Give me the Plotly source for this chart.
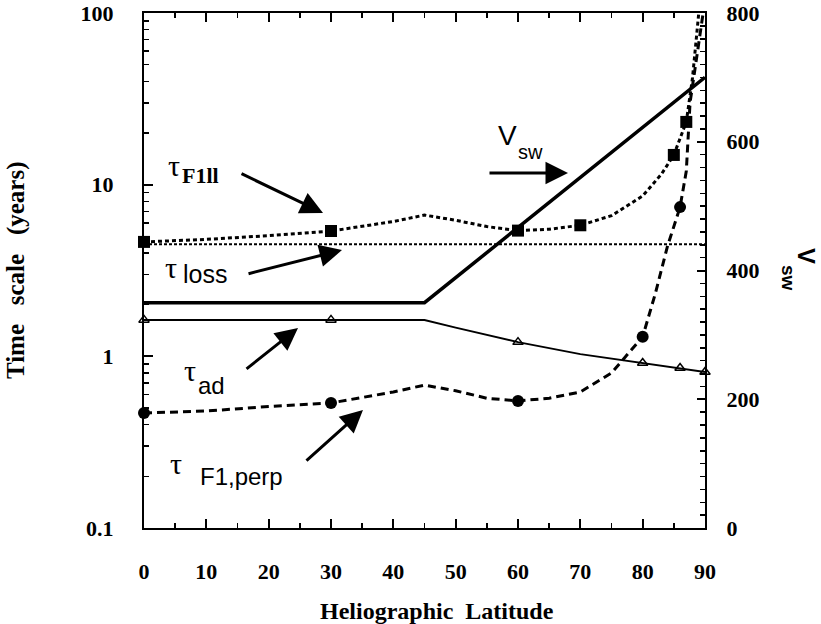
import plotly.graph_objects as go

# ---------------- data ----------------
lat_vsw = [0, 45, 90]
v_sw = [350, 350, 700]

lat_par = [0, 10, 20, 30, 40, 45, 50, 55, 60, 65, 70, 75, 80, 83, 85, 87, 88, 88.6, 89]
tau_par = [4.64, 4.8, 5.05, 5.37, 6.1, 6.65, 6.2, 5.7, 5.4, 5.5, 5.8, 6.6, 8.6, 11.5, 14.9, 23.2, 42, 70, 100]
lat_par_mk = [0, 30, 60, 70, 85, 87]

lat_loss = [0, 90]
tau_loss = [4.5, 4.5]

lat_ad = [0, 30, 45, 50, 60, 70, 80, 86, 90]
tau_ad = [1.63, 1.63, 1.63, 1.47, 1.21, 1.03, 0.914, 0.855, 0.81]
lat_ad_mk = [0, 30, 60, 80, 86, 90]

lat_perp = [0, 10, 20, 30, 40, 45, 50, 55, 60, 65, 70, 75, 80, 82, 84, 86, 87, 87.6, 88.9, 89.7]
tau_perp = [0.468, 0.48, 0.51, 0.535, 0.62, 0.68, 0.63, 0.57, 0.55, 0.57, 0.62, 0.8, 1.30, 2.3, 4.4, 7.4, 12, 30, 63, 100]
lat_perp_mk = [0, 30, 60, 80, 86]

x_ticks = [0, 10, 20, 30, 40, 50, 60, 70, 80, 90]
y_ticks = [0.1, 1, 10, 100]
y_ticktext = ["0.1", "1", "10", "100"]
y2_ticks = [0, 200, 400, 600, 800]

SERIF = "Liberation Serif"
SANS = "Liberation Sans"


def pick(lat, val, sel):
    d = dict(zip(lat, val))
    return [d[s] for s in sel]


fig = go.Figure()

# V_sw (right axis)
fig.add_trace(go.Scatter(x=lat_vsw, y=v_sw, yaxis="y2", mode="lines",
                         line=dict(color="black", width=3.5), showlegend=False))
# tau loss
fig.add_trace(go.Scatter(x=lat_loss, y=tau_loss, mode="lines",
                         line=dict(color="black", width=2, dash="3px,2px"), showlegend=False))
# tau F1 parallel
fig.add_trace(go.Scatter(x=lat_par, y=tau_par, mode="lines",
                         line=dict(color="black", width=3, dash="4px,3px"), showlegend=False))
fig.add_trace(go.Scatter(x=lat_par_mk, y=pick(lat_par, tau_par, lat_par_mk), mode="markers",
                         marker=dict(symbol="square", size=12, color="black"),
                         cliponaxis=False, showlegend=False))
# tau ad
fig.add_trace(go.Scatter(x=lat_ad, y=tau_ad, mode="lines",
                         line=dict(color="black", width=2), showlegend=False))
fig.add_trace(go.Scatter(x=lat_ad_mk, y=pick(lat_ad, tau_ad, lat_ad_mk), mode="markers",
                         marker=dict(symbol="triangle-up-open", size=9, color="black",
                                     line=dict(width=1.5, color="black")),
                         cliponaxis=False, showlegend=False))
# tau F1 perp
fig.add_trace(go.Scatter(x=lat_perp, y=tau_perp, mode="lines",
                         line=dict(color="black", width=3, dash="8px,5px"), showlegend=False))
fig.add_trace(go.Scatter(x=lat_perp_mk, y=pick(lat_perp, tau_perp, lat_perp_mk), mode="markers",
                         marker=dict(symbol="circle", size=12, color="black"),
                         cliponaxis=False, showlegend=False))

minor_log = [m * 10 ** e for e in (-1, 0, 1) for m in range(2, 10)]

tickfont = dict(family=SERIF, size=22, color="black", weight="bold")

fig.update_layout(
    width=821, height=624,
    margin=dict(l=144, r=116, t=13, b=96, autoexpand=False),
    plot_bgcolor="white", paper_bgcolor="white",
    hovermode=False,
    xaxis=dict(range=[0, 90], tickvals=x_ticks, ticks="inside", ticklen=9, tickwidth=2,
               tickcolor="black", minor=dict(dtick=5, tick0=0, ticks="inside", ticklen=5,
                                              tickwidth=1.5, tickcolor="black", showgrid=False),
               showline=True, linewidth=2, linecolor="black", mirror="ticks",
               showgrid=False, zeroline=False, tickfont=tickfont, ticklabelstandoff=23,
               automargin=False),
    yaxis=dict(type="log", range=[-1, 2], tickvals=y_ticks, ticktext=y_ticktext,
               ticks="inside", ticklen=9, tickwidth=2, tickcolor="black",
               minor=dict(tickvals=minor_log, ticks="inside", ticklen=5, tickwidth=1.5,
                          tickcolor="black", showgrid=False),
               showline=True, linewidth=2, linecolor="black",
               showgrid=False, zeroline=False, tickfont=tickfont, ticklabelstandoff=24,
               automargin=False),
    yaxis2=dict(overlaying="y", side="right", range=[0, 800], tickvals=y2_ticks,
                ticks="inside", ticklen=8, tickwidth=2, tickcolor="black",
                minor=dict(dtick=20, tick0=0, ticks="inside", ticklen=5, tickwidth=1.5,
                           tickcolor="black", showgrid=False),
                showline=True, linewidth=2, linecolor="black",
                showgrid=False, zeroline=False, tickfont=tickfont, ticklabelstandoff=15,
                automargin=False),
)

ann = []
# axis titles
ann.append(dict(text="Heliographic&nbsp; Latitude", xref="paper", yref="paper", x=0.522, y=-0.161,
                showarrow=False, font=dict(family=SERIF, size=24, color="black", weight="bold"),
                xanchor="center", yanchor="middle"))
ann.append(dict(text="Time&nbsp;&nbsp; scale&nbsp;&nbsp; (years)", xref="paper", yref="paper",
                x=-0.228, y=0.501, textangle=-90, showarrow=False,
                font=dict(family=SERIF, size=25, color="black", weight="bold"),
                xanchor="center", yanchor="middle"))
ann.append(dict(text="V", xref="paper", yref="paper", x=(806 - 144) / 561, y=(528 - 256) / 515,
                textangle=90, showarrow=False,
                font=dict(family=SANS, size=24, color="black", weight="bold"),
                xanchor="center", yanchor="middle"))
ann.append(dict(text="sw", xref="paper", yref="paper", x=(789 - 144) / 561, y=(528 - 278) / 515,
                textangle=90, showarrow=False,
                font=dict(family=SANS, size=19, color="black", weight="bold"),
                xanchor="center", yanchor="middle"))


def label(x, ylog, text, family, size, weight="normal"):
    ann.append(dict(text=text, x=x, y=ylog, xref="x", yref="y", showarrow=False,
                    font=dict(family=family, size=size, color="black", weight=weight),
                    xanchor="center", yanchor="middle"))


def arrow(x, ylog, ax, ay):
    ann.append(dict(text="", x=x, y=ylog, xref="x", yref="y", ax=ax, ay=ay,
                    axref="pixel", ayref="pixel", showarrow=True, arrowhead=2,
                    arrowsize=1.5, arrowwidth=3, arrowcolor="black", standoff=0))


TAU = 30
label(4.8, 1.109, "τ", SERIF, TAU)
label(9.0, 1.056, "F1ll", SERIF, 22, "bold")
label(4.33, 0.520, "τ", SERIF, TAU)
label(9.79, 0.480, "loss", SANS, 25)
label(7.38, -0.080, "τ", SERIF, TAU)
label(10.75, -0.167, "ad", SANS, 24)
label(58.24, 1.289, "V", SANS, 28)
label(61.93, 1.190, "sw", SANS, 20)
label(5.13, -0.627, "τ", SERIF, TAU)
label(15.6, -0.700, "F1,perp", SANS, 24)

arrow(28.72, 0.835, -83, -40)
arrow(31.77, 0.619, -95, 24)
arrow(68.02, 1.068, -80, 0)
arrow(24.71, 0.165, -53, 42)
arrow(35.13, -0.313, -58, 52)

fig.update_layout(annotations=ann)
fig.write_html("out.html", config={"displayModeBar": False, "staticPlot": True},
               post_script="document.body.style.margin='0px';document.body.style.overflow='hidden';")
